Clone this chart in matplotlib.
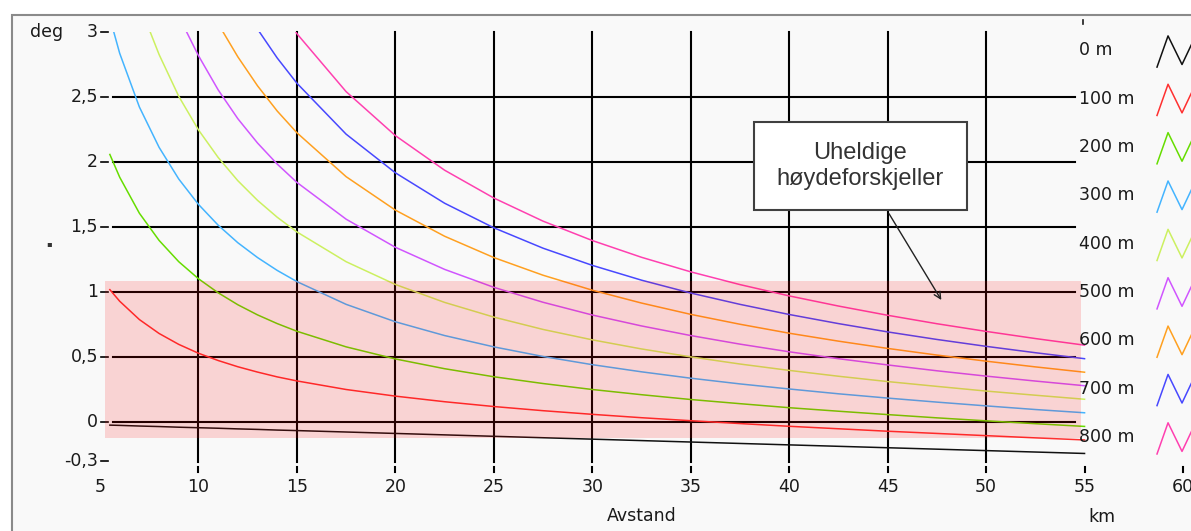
import numpy as np
import matplotlib.pyplot as plt
from matplotlib.patches import Rectangle

# Elevation angle (deg) vs. distance (km) for height differences 0-800 m
dist = [5.5, 6, 7, 8, 9, 10, 11, 12, 13, 14, 15, 17.5, 20, 22.5, 25, 27.5,
        30, 32.5, 35, 37.5, 40, 42.5, 45, 47.5, 50, 52.5, 55]

h0 = [-0.024, -0.026, -0.031, -0.035, -0.040, -0.044, -0.048, -0.053, -0.057,
      -0.062, -0.066, -0.077, -0.088, -0.099, -0.110, -0.121, -0.132, -0.143,
      -0.154, -0.165, -0.176, -0.187, -0.198, -0.209, -0.220, -0.231, -0.242]
h100 = [1.018, 0.929, 0.788, 0.681, 0.597, 0.529, 0.473, 0.425, 0.384, 0.347,
        0.316, 0.250, 0.199, 0.156, 0.119, 0.087, 0.059, 0.033, 0.010, -0.012,
        -0.033, -0.052, -0.071, -0.088, -0.105, -0.122, -0.138]
h200 = [2.058, 1.883, 1.606, 1.397, 1.233, 1.102, 0.994, 0.902, 0.824, 0.757,
        0.698, 0.578, 0.485, 0.410, 0.348, 0.296, 0.250, 0.210, 0.173, 0.141,
        0.110, 0.083, 0.057, 0.032, 0.009, -0.013, -0.034]
h300 = [None, 2.836, 2.423, 2.113, 1.869, 1.674, 1.514, 1.379, 1.265, 1.166,
        1.080, 0.905, 0.771, 0.665, 0.578, 0.504, 0.441, 0.386, 0.337, 0.293,
        0.254, 0.217, 0.184, 0.153, 0.124, 0.096, 0.071]
h400 = [None, None, None, 2.827, 2.505, 2.247, 2.035, 1.856, 1.705, 1.575,
        1.462, 1.233, 1.058, 0.920, 0.807, 0.712, 0.632, 0.562, 0.501, 0.446,
        0.397, 0.352, 0.311, 0.274, 0.238, 0.206, 0.175]
h500 = [None, None, None, None, None, 2.818, 2.555, 2.333, 2.146, 1.984,
        1.843, 1.560, 1.344, 1.174, 1.036, 0.921, 0.823, 0.739, 0.665, 0.599,
        0.540, 0.487, 0.439, 0.394, 0.353, 0.315, 0.279]
h600 = [None, None, None, None, None, None, None, 2.809, 2.586, 2.392,
        2.225, 1.887, 1.630, 1.429, 1.265, 1.129, 1.014, 0.915, 0.828, 0.752,
        0.683, 0.622, 0.566, 0.515, 0.468, 0.424, 0.383]
h700 = [None, None, None, None, None, None, None, None, None, 2.800,
        2.606, 2.214, 1.917, 1.683, 1.494, 1.337, 1.205, 1.091, 0.992, 0.905,
        0.827, 0.757, 0.693, 0.635, 0.582, 0.533, 0.487]
h800 = [None, None, None, None, None, None, None, None, None, None,
        2.987, 2.541, 2.203, 1.937, 1.723, 1.545, 1.396, 1.267, 1.155, 1.057,
        0.970, 0.892, 0.821, 0.756, 0.697, 0.642, 0.591]

# distance where each curve enters the chart at the 3 deg top edge
top_entry = [None, None, None, 5.7, 7.55, 9.4, 11.25, 13.1, 14.95]

series = [h0, h100, h200, h300, h400, h500, h600, h700, h800]
labels = ['0 m', '100 m', '200 m', '300 m', '400 m', '500 m', '600 m', '700 m', '800 m']
colors = ['#111111', '#ff3030', '#66dd00', '#44b4ff', '#ccf060',
          '#d055ff', '#ffa020', '#4848ff', '#ff40b0']

x_ticks = [5, 10, 15, 20, 25, 30, 35, 40, 45, 50, 55, 60]
y_ticks = [3, 2.5, 2, 1.5, 1, 0.5, 0, -0.3]
y_tick_labels = ['3', '2,5', '2', '1,5', '1', '0,5', '0', '-0,3']

W, H = 1191, 531
fig = plt.figure(figsize=(W / 100, H / 100), dpi=100, facecolor='white')
# panel background with grey frame
fig.patches.append(Rectangle((12 / W, -0.01), 1.0, (H - 15) / H + 0.01,
                             transform=fig.transFigure, facecolor='#f9f9f9',
                             edgecolor='#8a8a8a', lw=1.5, zorder=-5))

ax = fig.add_axes([100 / W, (H - 461) / H, 1083 / W, 429 / H])
ax.set_zorder(2)
ax.set_xlim(5, 60)
ax.set_ylim(-0.3, 3.0)
ax.axis('off')

txt = '#1a1a1a'
fs = 12.5

# grid
for yv in [0, 0.5, 1, 1.5, 2, 2.5]:
    ax.plot([5.65, 54.5], [yv, yv], color='black', lw=1.5, zorder=2)
for xv in x_ticks[1:-2]:
    ax.plot([xv, xv], [3.0, -0.305], color='black', lw=1.5, zorder=2, clip_on=False)
for xv in x_ticks[1:]:
    ax.plot([xv, xv], [-0.345, -0.385], color='black', lw=1.5, zorder=2, clip_on=False)
for xv in x_ticks:
    ax.text(xv, -0.5, str(xv), ha='center', va='center', fontsize=fs,
            color=txt, clip_on=False)

# y ticks
for yv, lab in zip(y_ticks, y_tick_labels):
    ax.plot([5.05, 5.4], [yv, yv], color='black', lw=1.2, clip_on=False)
    ax.text(4.9, yv, lab, ha='right', va='center', fontsize=fs, color=txt,
            clip_on=False)

ax.text(2.3, 3.0, 'deg', ha='center', va='center', fontsize=fs, color=txt, clip_on=False)
ax.text(2.4, 1.37, '\u25aa', ha='center', va='center', fontsize=6, color='#333333',
        clip_on=False)
ax.text(32.5, -0.72, 'Avstand', ha='center', va='center', fontsize=fs, color=txt,
        clip_on=False)
ax.text(55.9, -0.73, 'km', ha='center', va='center', fontsize=fs, color=txt,
        clip_on=False)

# curves
d = np.array(dist)
for vals, entry, col in zip(series, top_entry, colors):
    v = np.array(vals, dtype=float)
    m = ~np.isnan(v)
    xs, ys = d[m], v[m]
    if entry is not None:
        xs = np.concatenate([[entry], xs])
        ys = np.concatenate([[3.0], ys])
    ax.plot(xs, ys, color=col, lw=1.1, zorder=3)

# unfavourable zone
ax.add_patch(Rectangle((5.25, -0.125), 54.8 - 5.25, 1.087 + 0.125,
                       facecolor='#ff0000', alpha=0.15, lw=0, zorder=4))

# legend on the right
leg_y0, leg_step = 2.86, 0.372
for i, (lab, col) in enumerate(zip(labels, colors)):
    yy = leg_y0 - i * leg_step
    ax.text(54.7, yy, lab, ha='left', va='center', fontsize=fs, color=txt,
            clip_on=False, zorder=5)
    ax.plot([58.68, 59.24, 59.95, 60.7], [yy - 0.13, yy + 0.11, yy - 0.11, yy + 0.13],
            color=col, lw=1.1, clip_on=False, zorder=5)
ax.plot([54.9, 54.9], [3.06, 3.09], color=txt, lw=1.2, clip_on=False)

# annotation box
ax.add_patch(Rectangle((38.2, 1.63), 49.03 - 38.2, 2.31 - 1.63, facecolor='white',
                       edgecolor='#404040', lw=1.5, zorder=6))
ax.text(43.62, 1.97, 'Uheldige\nhøydeforskjeller', ha='center', va='center',
        fontsize=17, family='Liberation Sans', color='#333333', zorder=7,
        linespacing=1.25)
ax.annotate('', xy=(47.8, 0.92), xytext=(45.0, 1.62),
            arrowprops=dict(arrowstyle='->', color='#222222', lw=1.0,
                            mutation_scale=12), zorder=7)

fig.savefig('out.png', dpi=100)
